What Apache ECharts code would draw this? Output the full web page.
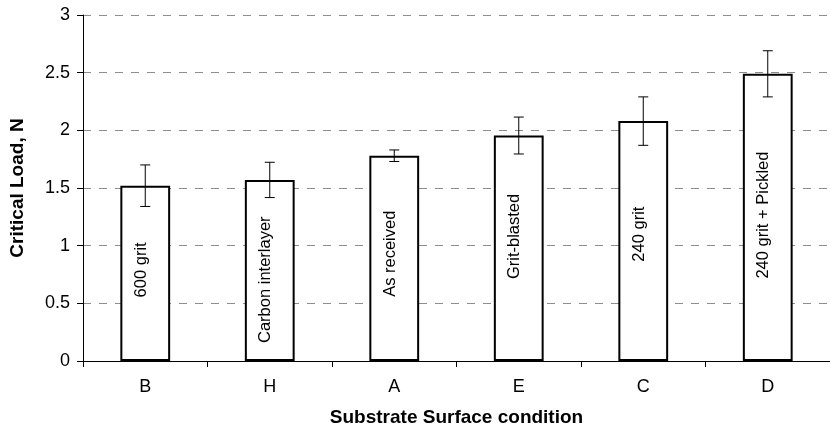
<!DOCTYPE html>
<html>
<head>
<meta charset="utf-8">
<script src="https://cdn.jsdelivr.net/npm/echarts@6/dist/echarts.min.js"></script>
<style>html,body{margin:0;padding:0;background:#fff;}#c{width:830px;height:432px;}</style>
</head>
<body>
<div id="c"></div>
<script>
var categories = ['B', 'H', 'A', 'E', 'C', 'D'];
var conditionLabels = ['600 grit', 'Carbon interlayer', 'As received', 'Grit-blasted', '240 grit', '240 grit + Pickled'];
var criticalLoad = [1.52, 1.57, 1.78, 1.955, 2.08, 2.49];
var errorRange = [0.18, 0.153, 0.05, 0.16, 0.21, 0.2];
var labelCenter = [0.79, 0.705, 0.93, 1.08, 1.1, 1.265];
var yTicks = ['0', '0.5', '1', '1.5', '2', '2.5', '3'];

var FONT = 'Liberation Sans, Arial, sans-serif';

var errData = categories.map(function (c, i) {
  return [i, criticalLoad[i] - errorRange[i], criticalLoad[i] + errorRange[i]];
});
var lblData = categories.map(function (c, i) {
  return [i, labelCenter[i], conditionLabels[i]];
});

var chart = echarts.init(document.getElementById('c'), null, {renderer: 'canvas'});
chart.setOption({
  animation: false,
  backgroundColor: '#fff',
  grid: {left: 83, right: -7, top: 15, bottom: 68, containLabel: false},
  xAxis: {
    type: 'category',
    data: categories,
    name: 'Substrate Surface condition',
    nameLocation: 'middle',
    nameGap: 47,
    nameTextStyle: {fontFamily: FONT, fontWeight: 'bold', fontSize: 19, color: '#000'},
    axisLine: {lineStyle: {color: '#000', width: 1}},
    axisTick: {show: true, alignWithLabel: false, length: 6, lineStyle: {color: '#000'}},
    axisLabel: {fontFamily: FONT, fontSize: 18, color: '#000', margin: 17},
    splitLine: {show: false}
  },
  yAxis: {
    type: 'value',
    min: 0, max: 3, interval: 0.5,
    name: 'Critical Load, N',
    nameLocation: 'middle',
    nameGap: 56,
    nameRotate: 90,
    nameTextStyle: {fontFamily: FONT, fontWeight: 'bold', fontSize: 19, color: '#000'},
    axisLine: {show: true, lineStyle: {color: '#000', width: 1}},
    axisTick: {show: true, length: 6, lineStyle: {color: '#000'}},
    axisLabel: {fontFamily: FONT, fontSize: 18, color: '#000', margin: 13,
      formatter: function (v) { return yTicks[Math.round(v / 0.5)]; }},
    splitLine: {show: true, lineStyle: {color: '#8c8c8c', width: 1, type: [8, 8]}}
  },
  series: [
    {
      type: 'bar',
      data: criticalLoad,
      barWidth: '40%',
      itemStyle: {color: '#fff', borderColor: '#000', borderWidth: 2},
      z: 2
    },
    {
      type: 'custom',
      z: 3,
      data: errData,
      renderItem: function (params, api) {
        var x = api.value(0);
        var lo = api.coord([x, api.value(1)]);
        var hi = api.coord([x, api.value(2)]);
        var hw = 5;
        var st = {stroke: '#000', lineWidth: 1};
        return {
          type: 'group',
          children: [
            {type: 'line', shape: {x1: lo[0], y1: lo[1], x2: hi[0], y2: hi[1]}, style: st},
            {type: 'line', shape: {x1: lo[0] - hw, y1: lo[1], x2: lo[0] + hw, y2: lo[1]}, style: st},
            {type: 'line', shape: {x1: hi[0] - hw, y1: hi[1], x2: hi[0] + hw, y2: hi[1]}, style: st}
          ]
        };
      }
    },
    {
      type: 'custom',
      z: 4,
      data: lblData,
      renderItem: function (params, api) {
        var p = api.coord([api.value(0), api.value(1)]);
        return {
          type: 'text',
          x: p[0] - 4,
          y: p[1],
          rotation: Math.PI / 2,
          style: {
            text: lblData[params.dataIndex][2],
            fontFamily: FONT,
            fontSize: 16.5,
            fill: '#000',
            align: 'center',
            verticalAlign: 'middle'
          }
        };
      }
    }
  ]
});
</script>
</body>
</html>
